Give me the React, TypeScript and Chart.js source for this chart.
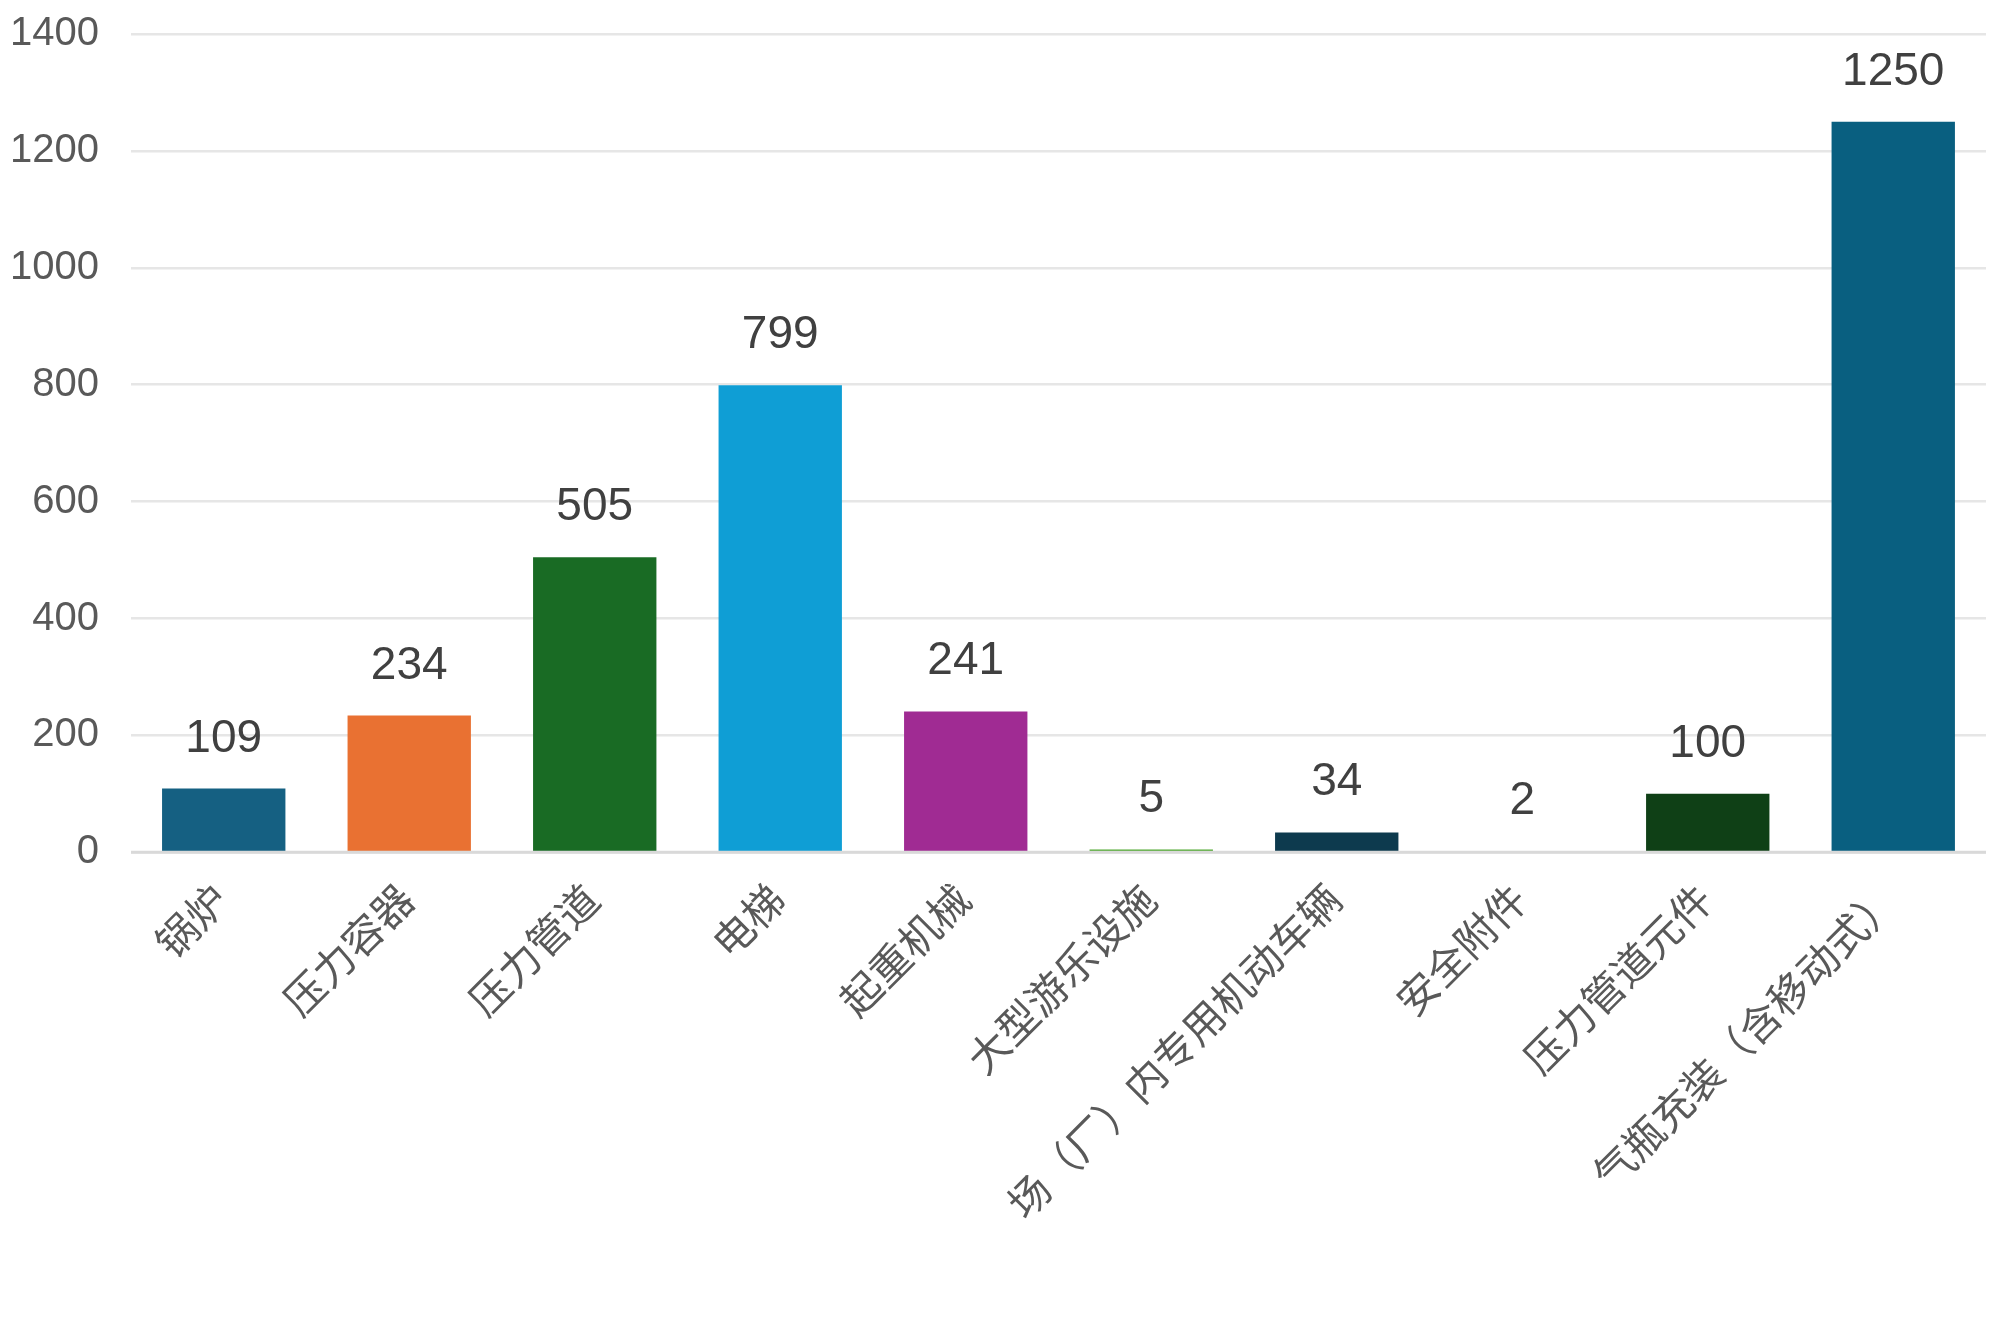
import { useEffect, useRef } from 'react'
import { Chart, registerables } from 'chart.js'
import type { Plugin } from 'chart.js'

Chart.register(...registerables)

const CATEGORIES = [
  '锅炉',
  '压力容器',
  '压力管道',
  '电梯',
  '起重机械',
  '大型游乐设施',
  '场（厂）内专用机动车辆',
  '安全附件',
  '压力管道元件',
  '气瓶充装（含移动式）',
]
const VALUES = [109, 234, 505, 799, 241, 5, 34, 2, 100, 1250]
const BAR_COLORS = [
  '#156082', '#E97132', '#196B24', '#0F9ED5', '#A02B93',
  '#4EA72E', '#0D3A4E', '#8C441E', '#0F4016', '#095F80',
]
const Y_MAX = 1400
const Y_STEP = 200

const LATIN = "'Liberation Sans', Arial, 'Noto Sans CJK SC', sans-serif"

// value labels above each bar + zero line drawn over the bars
const overlay: Plugin<'bar'> = {
  id: 'overlay',
  afterDatasetsDraw(chart) {
    const { ctx, chartArea } = chart
    const y0 = chart.scales.y.getPixelForValue(0)
    ctx.save()
    ctx.strokeStyle = '#D9D9D9'
    ctx.lineWidth = 3
    ctx.beginPath()
    ctx.moveTo(chartArea.left, y0)
    ctx.lineTo(chartArea.right, y0)
    ctx.stroke()

    const meta = chart.getDatasetMeta(0)
    ctx.font = `46px ${LATIN}`
    ctx.fillStyle = '#404040'
    ctx.textAlign = 'center'
    ctx.textBaseline = 'alphabetic'
    meta.data.forEach((bar, i) => {
      ctx.fillText(String(VALUES[i]), bar.x, bar.y - 37)
    })
    ctx.restore()
  },
}

export default function App() {
  const canvasRef = useRef<HTMLCanvasElement>(null)
  const chartRef = useRef<Chart | null>(null)

  useEffect(() => {
    document.body.style.margin = '0'
    if (!canvasRef.current) return
    if (chartRef.current) chartRef.current.destroy()

    chartRef.current = new Chart(canvasRef.current, {
      type: 'bar',
      data: {
        labels: CATEGORIES,
        datasets: [{
          data: VALUES,
          backgroundColor: BAR_COLORS,
          borderWidth: 0,
          categoryPercentage: 1,
          barPercentage: 0.665,
        }],
      },
      options: {
        animation: false,
        responsive: true,
        maintainAspectRatio: false,
        layout: { padding: { left: 10, right: 8, top: 34, bottom: 67 } },
        plugins: {
          legend: { display: false },
          tooltip: { enabled: false },
        },
        scales: {
          x: {
            grid: { display: false, drawTicks: false },
            border: { display: false },
            ticks: {
              autoSkip: false,
              maxRotation: 45,
              minRotation: 45,
              padding: 25,
              color: '#595959',
              font: { family: LATIN, size: 41 },
            },
          },
          y: {
            min: 0,
            max: Y_MAX,
            grid: {
              drawTicks: true,
              tickLength: 32,
              tickColor: 'rgba(0,0,0,0)',
              color: '#E6E6E6',
              lineWidth: 2.5,
            },
            border: { display: false },
            ticks: {
              stepSize: Y_STEP,
              padding: 0,
              color: '#595959',
              font: { family: LATIN, size: 40 },
              callback: v => String(v),
            },
          },
        },
      },
      plugins: [overlay],
    })

    return () => { chartRef.current?.destroy() }
  }, [])

  return (
    <div style={{ width: 1994, height: 1323, position: 'relative', background: '#fff' }}>
      <canvas ref={canvasRef} />
    </div>
  )
}
